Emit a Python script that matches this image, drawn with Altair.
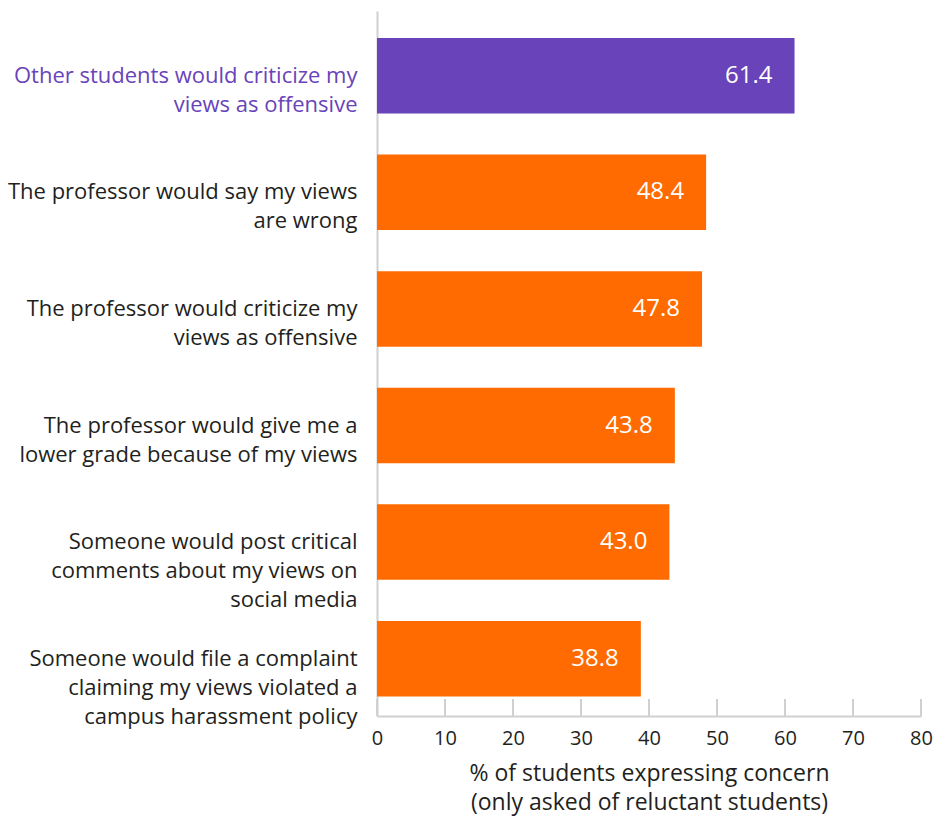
import altair as alt
import pandas as pd

categories = [
    "Other students would criticize my|views as offensive",
    "The professor would say my views|are wrong",
    "The professor would criticize my|views as offensive",
    "The professor would give me a|lower grade because of my views",
    "Someone would post critical|comments about my views on|social media",
    "Someone would file a complaint|claiming my views violated a|campus harassment policy",
]
values = [61.4, 48.4, 47.8, 43.8, 43.0, 38.8]
highlight = [True, False, False, False, False, False]
tick_values = [0, 10, 20, 30, 40, 50, 60, 70, 80]

PURPLE = "#6943b9"
ORANGE = "#ff6b00"
DARK = "#231f20"
GRAY = "#d0d0d0"
FONT = "Open Sans"

df = pd.DataFrame({"cat": categories, "val": values, "hl": highlight})
ticks_df = pd.DataFrame({"t": tick_values})

W, H = 544, 705

x_scale = alt.Scale(domain=[0, 80], nice=False, zero=True)

bars = alt.Chart(df).mark_bar().encode(
    y=alt.Y(
        "cat:N",
        sort=categories,
        title=None,
        scale=alt.Scale(paddingInner=0.3525, paddingOuter=0.2, align=0.58),
        axis=alt.Axis(
            ticks=False,
            domain=True,
            domainColor=GRAY,
            domainWidth=2,
            labelPadding=20,
            labelFont=FONT,
            labelFontSize=22,
            labelLineHeight=29,
            labelLimit=400,
            labelExpr="split(datum.label, '|')",
            labelColor={
                "condition": {"test": "indexof(datum.value, 'Other') === 0", "value": PURPLE},
                "value": DARK,
            },
        ),
    ),
    x=alt.X(
        "val:Q",
        scale=x_scale,
        title=["% of students expressing concern", "(only asked of reluctant students)"],
        axis=alt.Axis(
            values=tick_values,
            ticks=False,
            grid=False,
            domainColor=GRAY,
            domainWidth=2,
            labelFont=FONT,
            labelFontSize=20,
            labelColor=DARK,
            labelPadding=12,
            labelFlush=False,
            titleFont=FONT,
            titleFontSize=23,
            titleFontWeight="normal",
            titleColor=DARK,
            titleLineHeight=29,
            titlePadding=14,
        ),
    ),
    color=alt.Color(
        "hl:N",
        scale=alt.Scale(domain=[True, False], range=[PURPLE, ORANGE]),
        legend=None,
    ),
)

labels = alt.Chart(df).mark_text(
    align="right", baseline="middle", dx=-22, color="white", font=FONT, fontSize=24
).encode(
    y=alt.Y("cat:N", sort=categories),
    x=alt.X("val:Q", scale=x_scale),
    text=alt.Text("val:Q", format=".1f"),
)

tick_rules = alt.Chart(ticks_df).mark_rule(color=GRAY, strokeWidth=2).encode(
    x=alt.X("t:Q", scale=x_scale),
    y=alt.value(H - 17),
    y2=alt.value(H),
)

chart = alt.layer(bars, labels, tick_rules).properties(
    width=W,
    height=H,
    autosize=alt.AutoSizeParams(type="none"),
    padding={"left": 369, "top": 3, "right": 16, "bottom": 102},
).configure_view(stroke=None)

chart.save("out.html", embed_options={"renderer": "svg", "actions": False})
